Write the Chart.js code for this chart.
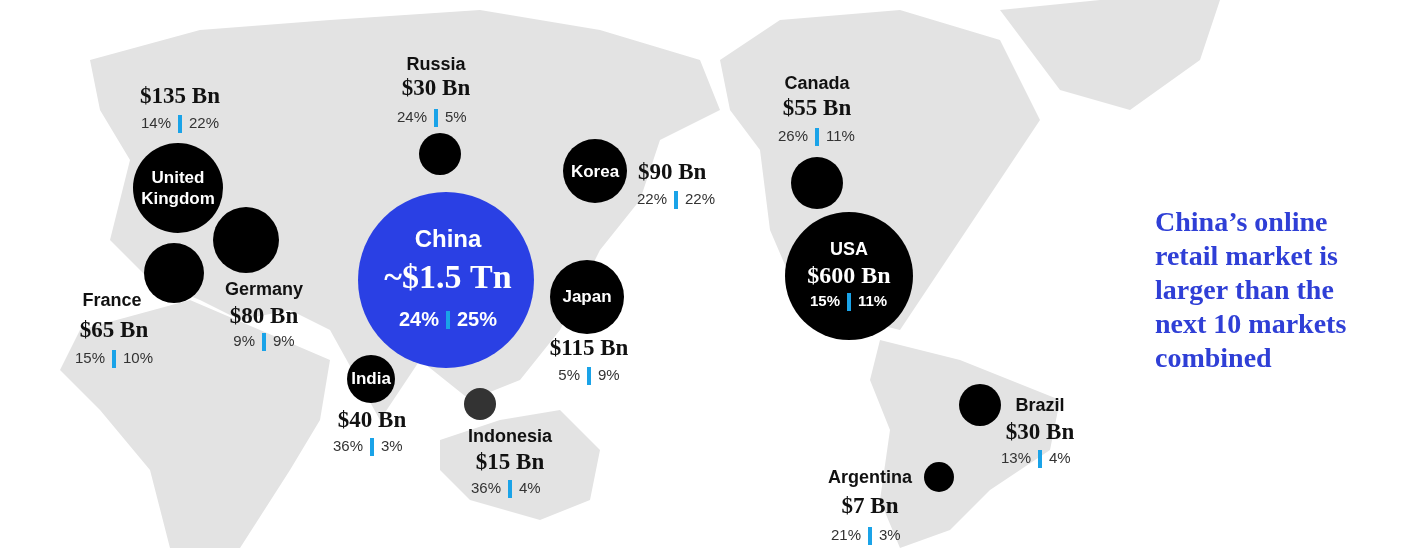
<!DOCTYPE html>
<html><head><meta charset="utf-8">
<script src="https://cdn.jsdelivr.net/npm/chart.js@4"></script>
<style>html,body{margin:0;padding:0;background:#fff}#w{width:1407px;height:548px}</style>
</head><body><div id="w"><canvas id="c"></canvas></div>
<script>
const markets = ["China","USA","United Kingdom","Germany","France","Russia","Korea","Canada","Japan","India","Indonesia","Brazil","Argentina"];
const valueLabels = ["~$1.5 Tn","$600 Bn","$135 Bn","$80 Bn","$65 Bn","$30 Bn","$90 Bn","$55 Bn","$115 Bn","$40 Bn","$15 Bn","$30 Bn","$7 Bn"];
const shareA = ["24%","15%","14%","9%","15%","24%","22%","26%","5%","36%","36%","13%","21%"];
const shareB = ["25%","11%","22%","9%","10%","5%","22%","11%","9%","3%","4%","4%","3%"];
const bubbleX = [446,849,178,246,174,440,595,817,587,371,480,980,939];
const bubbleY = [280,276,188,240,273,154,171,183,297,379,404,405,477];
const bubbleR = [88,64,45,33,30,21,32,26,37,24,16,21,15];
const bubbleColor = ["#2a40e4","#000","#000","#000","#000","#000","#000","#000","#000","#000","#333","#000","#000"];
const headline = ["China’s online","retail market is","larger than the","next 10 markets","combined"];

const continents = [
 [[90,60],[200,30],[330,20],[480,10],[600,30],[700,60],[720,110],[660,140],[640,200],[600,250],[560,330],[520,380],[470,400],[420,360],[380,420],[330,330],[290,310],[240,320],[200,300],[150,280],[110,240],[130,160],[100,110]],
 [[80,330],[190,300],[260,330],[330,360],[320,420],[290,470],[240,548],[170,548],[150,470],[100,410],[60,370]],
 [[440,440],[500,420],[560,410],[600,450],[590,500],[540,520],[470,500],[440,470]],
 [[720,60],[780,20],[900,10],[1000,40],[1040,120],[1000,180],[960,240],[920,300],[900,330],[860,320],[800,300],[770,230],[760,150],[730,110]],
 [[880,340],[960,360],[1060,400],[1050,450],[990,490],[950,530],[900,548],[880,500],[890,430],[870,380]],
 [[1000,10],[1100,0],[1220,0],[1200,60],[1130,110],[1060,90]]
];

const bg = {id:'bg', beforeDatasetsDraw(ch){
 const {ctx,scales:{x,y}} = ch; ctx.save(); ctx.fillStyle='#e3e3e3';
 continents.forEach(p=>{ctx.beginPath();p.forEach((q,i)=>{const X=x.getPixelForValue(q[0]),Y=y.getPixelForValue(q[1]);i?ctx.lineTo(X,Y):ctx.moveTo(X,Y);});ctx.closePath();ctx.fill();});
 ctx.restore();
}};

const layout = [
 [448,240,448,279,448,320,1],
 [849,250,849,277,849,302,1],
 [178,188,180,97,180,124,1],
 [264,290,264,317,264,342,0],
 [112,301,114,331,114,359,0],
 [436,65,436,89,436,118,0],
 [595,172,638,173,676,200,1],
 [817,84,817,109,817,137,0],
 [587,297,589,349,589,376,1],
 [371,379,372,421,372,447,1],
 [510,437,510,463,510,489,0],
 [1040,406,1040,433,1040,459,0],
 [870,478,870,507,870,536,0]
];
const SERIF='"Liberation Serif"';
function pct(ctx,a,b,cx,cy,font,col){
 ctx.font=font; ctx.fillStyle=col; ctx.textBaseline='middle';
 ctx.textAlign='right'; ctx.fillText(a,cx-9,cy);
 ctx.textAlign='left'; ctx.fillText(b,cx+9,cy);
 ctx.fillStyle='#1aa3e8'; ctx.fillRect(cx-2,cy-9,4,18);
}

const labels = {id:'labels', afterDatasetsDraw(ch){
 const {ctx,scales:{x,y}} = ch; ctx.save(); ctx.textBaseline='middle';
 markets.forEach((m,i)=>{
  const L=layout[i]; const P=(vx,vy)=>[x.getPixelForValue(vx),y.getPixelForValue(vy)];
  let [nx,ny]=P(L[0],L[1]),[vx,vy]=P(L[2],L[3]),[px,py]=P(L[4],L[5]);
  ctx.textAlign='center';
  if(i===0){
   ctx.fillStyle='#fff'; ctx.font='bold 24px Liberation Sans'; ctx.fillText(m,nx,ny);
   ctx.font='bold 34px '+SERIF; ctx.fillText(valueLabels[i],vx,vy);
   pct(ctx,shareA[i],shareB[i],px,py,'bold 20px Liberation Sans','#fff'); return;
  }
  if(i===1){
   ctx.fillStyle='#fff'; ctx.font='bold 18px Liberation Sans'; ctx.fillText(m,nx,ny);
   ctx.font='bold 24px '+SERIF; ctx.fillText(valueLabels[i],vx,vy);
   pct(ctx,shareA[i],shareB[i],px,py,'bold 15px Liberation Sans','#fff'); return;
  }
  if(L[6]){ ctx.fillStyle='#fff'; ctx.font='bold 17px Liberation Sans';
   if(i===2){ctx.fillText('United',nx,ny-10);ctx.fillText('Kingdom',nx,ny+11);} else ctx.fillText(m,nx,ny);
  } else { ctx.fillStyle='#111'; ctx.font='bold 18px Liberation Sans'; ctx.fillText(m,nx,ny); }
  ctx.fillStyle='#111'; ctx.font='bold 23px '+SERIF;
  if(i===6){ctx.textAlign='left';} ctx.fillText(valueLabels[i],vx,vy); ctx.textAlign='center';
  pct(ctx,shareA[i],shareB[i],px,py,'15px Liberation Sans','#333');
 });
 ctx.fillStyle='#2f3fd6'; ctx.font='bold 28px '+SERIF; ctx.textAlign='left';
 headline.forEach((t,k)=>ctx.fillText(t,x.getPixelForValue(1155),y.getPixelForValue(224+34*k)));
 ctx.restore();
}};

new Chart(document.getElementById('c'),{
 type:'bubble',
 data:{datasets:[{data:markets.map((m,i)=>({x:bubbleX[i],y:bubbleY[i],r:bubbleR[i]})),backgroundColor:bubbleColor,borderWidth:0,hoverRadius:0,clip:false}]},
 options:{responsive:true,maintainAspectRatio:false,animation:false,layout:{padding:0,autoPadding:false},
  plugins:{legend:{display:false},tooltip:{enabled:false}},
  scales:{x:{type:'linear',min:0,max:1407,display:false},y:{type:'linear',min:0,max:548,reverse:true,display:false}}},
 plugins:[bg,labels]
});
</script></body></html>
